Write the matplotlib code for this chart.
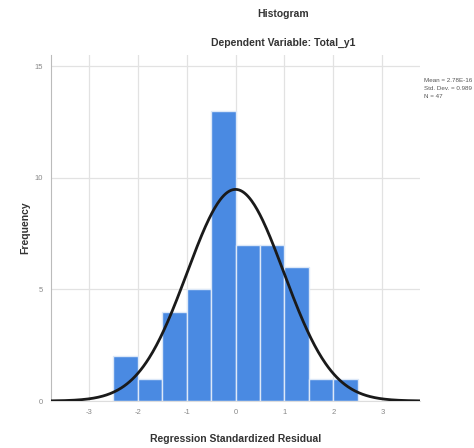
import numpy as np
import matplotlib.pyplot as plt

bin_edges = [-2.5, -2.0, -1.5, -1.0, -0.5, 0.0, 0.5, 1.0, 1.5, 2.0, 2.5]
counts = [2, 1, 4, 5, 13, 7, 7, 6, 1, 1]
x_ticks = [-3, -2, -1, 0, 1, 2, 3]
y_ticks = [0, 5, 10, 15]
mean = 0.0
std_dev = 0.989
n = 47
stats_lines = ['Mean = 2.78E-16', 'Std. Dev. = 0.989', 'N = 47']

plt.rcParams['font.family'] = ['Liberation Sans', 'DejaVu Sans']
plt.rcParams['axes.unicode_minus'] = False

fig = plt.figure(figsize=(4.74, 4.48), dpi=100)
ax = fig.add_axes([51 / 474, 1 - 401 / 448, 369 / 474, 346 / 448])

widths = np.diff(bin_edges)
ax.bar(bin_edges[:-1], counts, width=widths, align='edge',
       color='#4a8ae2', edgecolor='#dce8f8', linewidth=1.0, zorder=2)

# fitted normal curve scaled to the histogram
xs = np.linspace(-3.77, 3.77, 400)
bw = widths[0]
ys = n * bw / (std_dev * np.sqrt(2 * np.pi)) * np.exp(-0.5 * ((xs - mean) / std_dev) ** 2)
ax.plot(xs, ys, color='#1a1a1a', linewidth=2.0, zorder=3)

ax.set_xlim(-3.77, 3.77)
ax.set_ylim(0, 15.5)
ax.set_xticks(x_ticks)
ax.set_yticks(y_ticks)
ax.tick_params(labelsize=5.5, colors='#888888', length=0, pad=6)
ax.grid(True, color='#e2e2e2', linewidth=0.9, zorder=0)
ax.set_axisbelow(True)
for side in ['top', 'right']:
    ax.spines[side].set_visible(False)
ax.spines['left'].set_color('#bbbbbb')
ax.spines['bottom'].set_color('#dddddd')

ax.set_xlabel('Regression Standardized Residual', fontsize=7.5, fontweight='bold',
              color='#333333', labelpad=13)
ax.set_ylabel('Frequency', fontsize=7.5, fontweight='bold', color='#333333')
ax.yaxis.set_label_coords(-0.055, 0.5)

fig.text(283 / 474, 1 - 14 / 448, 'Histogram', ha='center', va='center', fontsize=7.5,
         fontweight='bold', color='#333333')
fig.text(283 / 474, 1 - 43 / 448, 'Dependent Variable: Total_y1', ha='center', va='center',
         fontsize=7.5, fontweight='bold', color='#333333')
for i, line in enumerate(stats_lines):
    fig.text(424 / 474, 1 - (80 + i * 8) / 448, line, ha='left', va='center',
             fontsize=4.5, color='#555555')

fig.savefig('out.png', dpi=100)
